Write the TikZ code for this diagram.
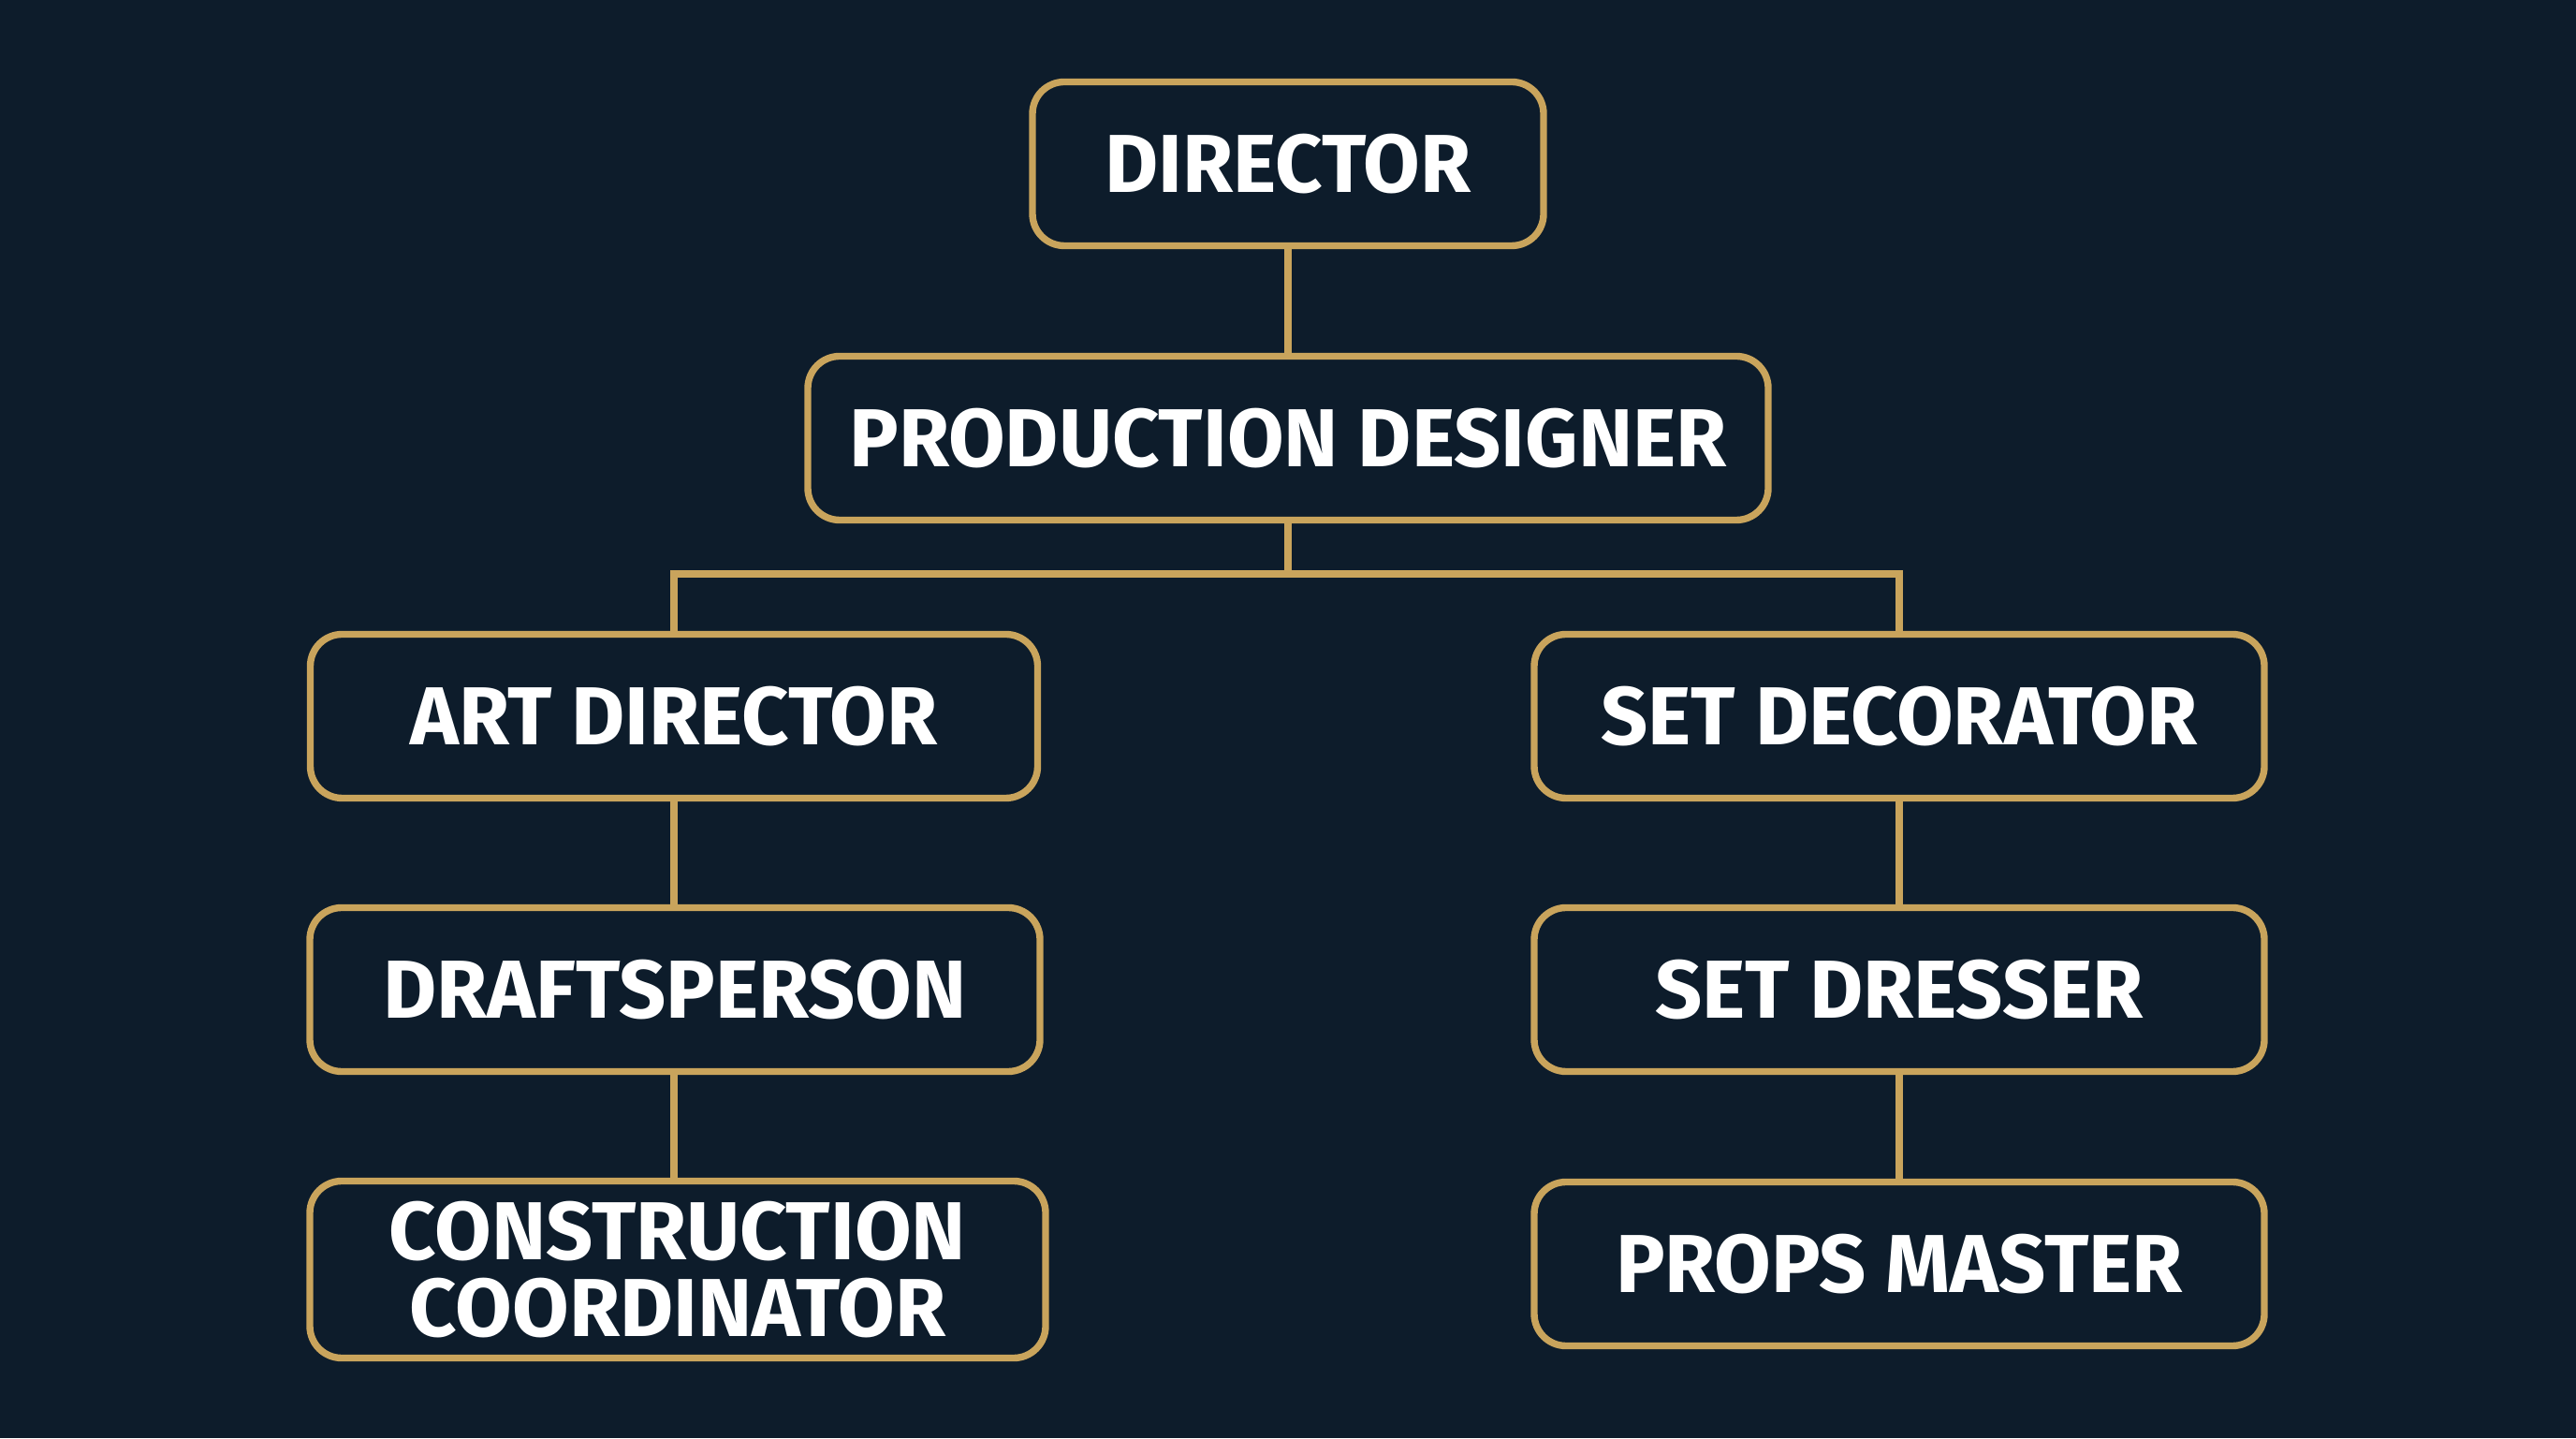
\documentclass[tikz,border=0pt]{standalone}
\usepackage{fontspec}
\setmainfont{Fira Sans}
\usepackage{xcolor}
\usetikzlibrary{calc}
\definecolor{bgnavy}{HTML}{0D1C2B}
\definecolor{gold}{HTML}{C9A45C}

\tikzset{
  role/.style={draw=gold, line width=2.1pt, rounded corners=0.34cm, fill=bgnavy,
    text=white, font=\fontsize{25}{26}\selectfont\bfseries, align=center,
    inner sep=0pt, outer sep=0pt, minimum height=1.75cm},
  link/.style={draw=gold, line width=2.1pt}
}

\begin{document}
\begin{tikzpicture}
        %BACKGROUND
        \fill[bgnavy] (0,0) rectangle (27.52,15.36);
        \useasboundingbox (0,0) rectangle (27.52,15.36);

        %BOXES
        \node[role, minimum width=5.46cm] (director) at (13.76,13.61) {DIRECTOR};
        \node[role, minimum width=10.26cm] (designer) at (13.76,10.68) {PRODUCTION DESIGNER};
        \node[role, minimum width=7.77cm] (art) at (7.20,7.71) {ART DIRECTOR};
        \node[role, minimum width=7.80cm] (decorator) at (20.29,7.71) {SET DECORATOR};
        \node[role, minimum width=7.80cm] (drafts) at (7.21,4.79) {DRAFTSPERSON};
        \node[role, minimum width=7.80cm] (dresser) at (20.29,4.79) {SET DRESSER};
        \node[role, minimum width=7.86cm, minimum height=1.89cm] (construction) at (7.24,1.80) {CONSTRUCTION\\[-0.1cm]COORDINATOR};
        \node[role, minimum width=7.80cm] (props) at (20.29,1.86) {PROPS MASTER};

        %LINES
        \draw[link] (director) -- (designer);
        \draw[link] (designer.south) -- ++(0,-0.575) coordinate (split) -| (art.north);
        \draw[link] (split) -| (decorator.north);
        \draw[link] (art.south) -- (art.south |- drafts.north);
        \draw[link] (art.south |- drafts.south) -- (art.south |- construction.north);
        \draw[link] (decorator) -- (dresser);
        \draw[link] (dresser) -- (props);
    \end{tikzpicture}
\end{document}
